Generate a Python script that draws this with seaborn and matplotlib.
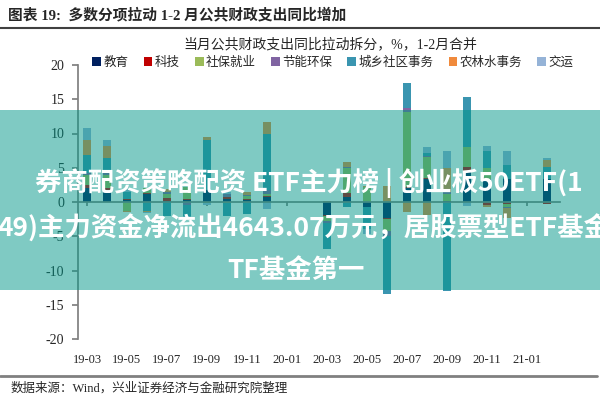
import numpy as np
import pandas as pd
import matplotlib
matplotlib.use('Agg')
import matplotlib.pyplot as plt
import seaborn as sns
from matplotlib.lines import Line2D
from matplotlib.patches import Rectangle

# months with data (1-2 month merged, shown at Feb)
months = ['19-03', '19-04', '19-05', '19-06', '19-07', '19-08', '19-09', '19-10', '19-11', '19-12',
          '20-03', '20-04', '20-05', '20-06', '20-07', '20-08', '20-09', '20-10', '20-11', '20-12',
          '21-02']

edu   = [2.0, 1.7, 0.3, 1.2, 0.2, 0.3, 1.7, 0.4, 0.3, 0.8, -1.9, 0.8, -0.7, -2.4, 2.0, 3.4, 0.2, 4.4, 3.4, 3.4, 3.4]
sci   = [0.5, 0.4, 0.1, 0.1, 0.4, 0.1, 0.1, 0.3, 0.1, 0.1, -0.1, 0.5, 0.0, -0.1, 0.2, 0.1, 0.0, 0.7, -0.4, -0.3, -0.3]
soc   = [1.5, 1.8, -1.3, 0.7, 0.6, 1.8, -0.2, -0.2, 0.5, 0.3, -0.8, 3.6, 2.2, -1.8, 11.0, 3.0, 1.0, 2.9, 1.5, -0.4, 0.0]
env   = [0.3, 0.3, 0.1, 0.1, 0.2, -0.4, 0.0, 0.4, 0.1, 0.5, -0.2, 0.2, 0.0, -0.7, 0.5, 0.2, 0.2, 0.1, 0.0, -0.2, 0.0]
city  = [2.6, 2.2, 1.0, -1.3, -2.0, -1.6, 7.2, -1.8, -1.7, 8.2, -3.8, -0.8, -3.2, -8.5, 3.6, 0.5, -13.0, 7.3, 2.5, 2.0, 1.7]
agr   = [2.1, 1.8, -0.1, -0.2, 0.5, 0.0, 0.5, 0.0, 0.5, 1.8, 0.2, 0.8, 0.2, 2.4, -1.5, -1.9, 3.5, 0.0, -0.4, -1.5, 1.0]
trans = [1.8, 0.9, 0.4, -0.1, 0.0, -0.4, -0.3, 0.4, 0.0, -1.0, 0.0, 0.0, -0.7, 0.0, 0.0, 0.8, 2.5, -0.6, 0.8, 2.0, 0.3]

categories = ['教育', '科技', '社保就业', '节能环保', '城乡社区事务', '农林水事务', '交运']
colors = ['#002060', '#C00000', '#9BBB59', '#8064A2', '#3A95B0', '#F08A3C', '#95B3D7']
xtick_labels = ['19-03', '19-05', '19-07', '19-09', '19-11', '20-01',
                '20-03', '20-05', '20-07', '20-09', '20-11', '21-01']

df = pd.DataFrame(dict(zip(categories, [edu, sci, soc, env, city, agr, trans])), index=months)

sns.set_theme(style='ticks')
plt.rcParams['font.family'] = ['Liberation Serif', 'Noto Sans CJK SC']
plt.rcParams['axes.unicode_minus'] = False

# month index counted from 19-03
dates = pd.to_datetime(['20' + m for m in months], format='%Y-%m')
x = (dates.year - 2019) * 12 + dates.month - 3
tick_dates = pd.to_datetime(['20' + m for m in xtick_labels], format='%Y-%m')
xt = (tick_dates.year - 2019) * 12 + tick_dates.month - 3

fig = plt.figure(figsize=(6, 4), dpi=100)
ax = fig.add_axes([0.13, 0.1525, 0.803, 0.685])

pos_bottom = np.zeros(len(months))
neg_bottom = np.zeros(len(months))
for cat, col in zip(categories, colors):
    v = df[cat].to_numpy()
    p = np.clip(v, 0, None)
    q = np.clip(v, None, 0)
    ax.bar(x, p, bottom=pos_bottom, width=0.42, color=col, label=cat, linewidth=0)
    ax.bar(x, q, bottom=neg_bottom, width=0.42, color=col, linewidth=0)
    pos_bottom += p
    neg_bottom += q

ax.set_ylim(-20, 20)
ax.set_yticks(range(-20, 21, 5))
ax.set_xlim(-0.45, 23.65)
for s in ['top', 'right']:
    ax.spines[s].set_visible(False)
ax.spines['left'].set_color('#808080')
ax.spines['bottom'].set_position(('data', 0))
ax.spines['bottom'].set_color('#808080')
ax.set_xticks(xt)
ax.tick_params(axis='x', labelbottom=False, length=3, color='#808080')
ax.tick_params(axis='y', length=4, color='#808080', labelsize=10, pad=6)
ax.grid(False)

sec = ax.secondary_xaxis(0)
sec.set_xticks(xt, labels=xtick_labels)
sec.tick_params(length=0, pad=11, labelsize=9)
sec.spines['bottom'].set_visible(False)

ax.legend(loc='center', bbox_to_anchor=(0.555, 1 - 63 / 400), bbox_transform=fig.transFigure,
          ncol=7, frameon=False, fontsize=9, handlelength=0.7, handleheight=0.7,
          handletextpad=0.2, columnspacing=1.2)

fig.text(0.013, 1 - 15 / 400, '图表 19:  多数分项拉动 1-2 月公共财政支出同比增加',
         fontsize=10.6, weight='bold', va='center')
fig.add_artist(Line2D([0, 1], [1 - 28 / 400] * 2, color='#404040', lw=1.5))
fig.text(330 / 600, 1 - 44 / 400, '当月公共财政支出同比拉动拆分，%，1-2月合并',
         fontsize=10, ha='center', va='center')
fig.add_artist(Line2D([0, 0.995], [1 - 376 / 400] * 2, color='#808080', lw=2))
fig.text(0.017, 1 - 388 / 400, '数据来源：Wind，兴业证券经济与金融研究院整理',
         fontsize=9, va='center')

# overlay banner
fig.add_artist(Rectangle((0, 1 - 290 / 400), 1, 180 / 400, transform=fig.transFigure,
                         facecolor='#009688', alpha=0.5, linewidth=0, zorder=10))
banner = dict(color='white', weight='bold', fontsize=19, va='center',
              family=['Noto Sans CJK SC'], zorder=11)
fig.text(35 / 600, 1 - 183 / 400, '券商配资策略配资 ETF主力榜 | 创业板50ETF(1', ha='left', **banner)
fig.text(-3 / 600, 1 - 229 / 400, '49)主力资金净流出4643.07万元，居股票型ETF基金', ha='left', **banner)
fig.text(296 / 600, 1 - 271 / 400, 'TF基金第一', ha='center', **banner)

fig.savefig('out.png', dpi=100)
